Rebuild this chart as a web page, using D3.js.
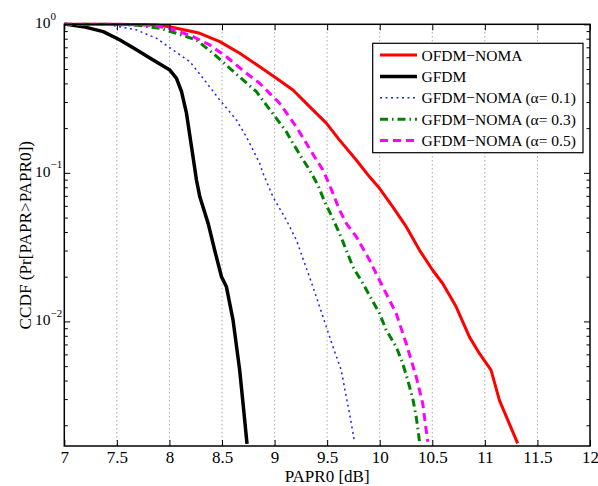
<!DOCTYPE html>
<html>
<head>
<meta charset="utf-8">
<script src="https://cdn.jsdelivr.net/npm/d3@7"></script>
<style>
  html, body { margin: 0; padding: 0; background: #fff; }
  svg { display: block; font-family: "Liberation Serif", "Times New Roman", serif; }
</style>
</head>
<body>
<svg id="chart" width="598" height="486"></svg>
<script>
// PAPR threshold (dB) and CCDF values for each scheme
const ofdmNomaX = [7.0, 7.5, 7.88, 8.0, 8.225, 8.289, 8.479, 8.669, 8.859, 9.017, 9.175, 9.333, 9.492, 9.618, 9.777, 9.903, 9.998, 10.124, 10.252, 10.378, 10.504, 10.599, 10.727, 10.853, 10.948, 11.059, 11.138, 11.312];
const ofdmNomaY = [1.0, 0.999, 0.99, 0.964, 0.892, 0.870, 0.764, 0.638, 0.518, 0.433, 0.361, 0.279, 0.216, 0.166, 0.122, 0.094, 0.0787, 0.0591, 0.0434, 0.0302, 0.0221, 0.0180, 0.01254, 0.00787, 0.00609, 0.0047, 0.00295, 0.00151];

const gfdmX = [7.0, 7.02, 7.18, 7.37, 7.53, 7.69, 7.845, 8.004, 8.067, 8.115, 8.162, 8.21, 8.257, 8.289, 8.368, 8.431, 8.495, 8.542, 8.605, 8.668, 8.70, 8.738];
const gfdmY = [1.0, 0.999, 0.964, 0.892, 0.784, 0.671, 0.575, 0.492, 0.433, 0.352, 0.252, 0.150, 0.0895, 0.069, 0.0457, 0.030, 0.0200, 0.0171, 0.0102, 0.0047, 0.0028, 0.0015];

const alpha01X = [7.0, 7.213, 7.434, 7.688, 7.877, 8.035, 8.194, 8.32, 8.479, 8.637, 8.732, 8.858, 8.89, 8.985, 9.112, 9.207, 9.286, 9.365, 9.428, 9.492, 9.555, 9.634, 9.682, 9.713, 9.76];
const alpha01Y = [1.0, 0.999, 0.99, 0.916, 0.805, 0.671, 0.560, 0.433, 0.309, 0.227, 0.175, 0.116, 0.0993, 0.069, 0.0481, 0.0353, 0.0246, 0.0171, 0.01254, 0.0092, 0.00675, 0.0047, 0.0031, 0.0024, 0.00155];

const alpha03X = [7.0, 7.434, 7.7, 7.909, 8.067, 8.257, 8.415, 8.574, 8.70, 8.827, 8.922, 9.017, 9.112, 9.175, 9.254, 9.333, 9.412, 9.476, 9.549, 9.618, 9.682, 9.745, 9.84, 9.998, 10.062, 10.157, 10.219, 10.267, 10.314, 10.347, 10.371, 10.378];
const alpha03Y = [1.0, 0.999, 0.985, 0.940, 0.870, 0.784, 0.638, 0.506, 0.422, 0.352, 0.286, 0.233, 0.189, 0.158, 0.128, 0.1044, 0.0828, 0.0639, 0.0501, 0.0391, 0.0302, 0.0233, 0.0180, 0.0113, 0.00873, 0.00675, 0.0052, 0.00402, 0.00303, 0.00228, 0.00171, 0.00155];

const alpha05X = [7.0, 7.5, 7.8, 8.004, 8.225, 8.383, 8.542, 8.732, 8.858, 8.953, 9.048, 9.127, 9.207, 9.302, 9.381, 9.46, 9.523, 9.618, 9.682, 9.777, 9.903, 10.029, 10.157, 10.252, 10.347, 10.409, 10.442, 10.457];
const alpha05Y = [1.0, 0.999, 0.99, 0.94, 0.826, 0.726, 0.605, 0.468, 0.401, 0.343, 0.294, 0.245, 0.204, 0.158, 0.128, 0.1044, 0.0828, 0.0562, 0.0457, 0.0372, 0.0259, 0.0171, 0.0113, 0.0071, 0.00424, 0.0028, 0.00185, 0.00155];

const seriesNames = ["OFDM\u2212NOMA", "GFDM", "GFDM\u2212NOMA (\u03b1= 0.1)", "GFDM\u2212NOMA (\u03b1= 0.3)", "GFDM\u2212NOMA (\u03b1= 0.5)"];
const xTickValues = [7, 7.5, 8, 8.5, 9, 9.5, 10, 10.5, 11, 11.5, 12];
const yDecades = [0, -1, -2];

const series = [
  { name: seriesNames[0], x: ofdmNomaX, y: ofdmNomaY, color: "#ff0000", width: 3, dash: null },
  { name: seriesNames[1], x: gfdmX, y: gfdmY, color: "#000000", width: 3.5, dash: null },
  { name: seriesNames[2], x: alpha01X, y: alpha01Y, color: "#1f1fff", width: 1.5, dash: "2,3.5" },
  { name: seriesNames[3], x: alpha03X, y: alpha03Y, color: "#008000", width: 3, dash: "8,4,1.5,4" },
  { name: seriesNames[4], x: alpha05X, y: alpha05Y, color: "#ff00ff", width: 3, dash: "8,5" }
];

const svg = d3.select("#chart");
const plotL = 64.3, plotR = 590, plotT = 24.3, plotB = 446;

const x = d3.scaleLinear().domain([7, 12]).range([plotL, plotR]);
const y = d3.scaleLog().domain([0.00145, 1]).range([plotB, plotT]);

// vertical dotted grid
svg.append("g").selectAll("line")
  .data(xTickValues.slice(1, -1))
  .join("line")
  .attr("x1", d => x(d)).attr("x2", d => x(d))
  .attr("y1", plotT).attr("y2", plotB)
  .attr("stroke", "#808080").attr("stroke-width", 1)
  .attr("stroke-dasharray", "1,3");

// curves
const line = d3.line().x(d => x(d[0])).y(d => y(d[1]));
const plot = svg.append("g");
plot.append("clipPath").attr("id", "clip")
  .append("rect").attr("x", plotL).attr("y", plotT - 2).attr("width", plotR - plotL).attr("height", plotB - plotT + 2);
series.forEach(s => {
  plot.append("path")
    .datum(s.x.map((v, i) => [v, s.y[i]]))
    .attr("d", line)
    .attr("fill", "none")
    .attr("stroke", s.color)
    .attr("stroke-width", s.width)
    .attr("stroke-dasharray", s.dash)
    .attr("stroke-linejoin", "round")
    .attr("clip-path", "url(#clip)");
});

// axes with inward ticks
const minorTicks = [];
for (let e = -3; e <= -1; e++) {
  for (let m = 2; m <= 9; m++) {
    const v = m * Math.pow(10, e);
    if (v >= 0.00145 && v < 1) minorTicks.push(v);
  }
}
const majorY = yDecades.map(e => Math.pow(10, e));

const xAxisBottom = d3.axisBottom(x).tickValues(xTickValues).tickSize(-6).tickPadding(5).tickFormat(d3.format("~g"));
const xAxisTop = d3.axisTop(x).tickValues(xTickValues).tickSize(-6).tickFormat("");
svg.append("g").attr("transform", `translate(0,${plotB})`).call(xAxisBottom);
svg.append("g").attr("transform", `translate(0,${plotT})`).call(xAxisTop);

const yAxisLeft = d3.axisLeft(y).tickValues(majorY).tickSize(-6).tickFormat("");
const yAxisRight = d3.axisRight(y).tickValues(majorY).tickSize(-6).tickFormat("");
const yMinorLeft = d3.axisLeft(y).tickValues(minorTicks).tickSize(-3.5).tickFormat("");
const yMinorRight = d3.axisRight(y).tickValues(minorTicks).tickSize(-3.5).tickFormat("");
svg.append("g").attr("transform", `translate(${plotL},0)`).call(yAxisLeft);
svg.append("g").attr("transform", `translate(${plotR},0)`).call(yAxisRight);
svg.append("g").attr("transform", `translate(${plotL},0)`).call(yMinorLeft);
svg.append("g").attr("transform", `translate(${plotR},0)`).call(yMinorRight);

svg.selectAll(".domain").remove();
svg.selectAll(".tick line").attr("stroke", "#000").attr("stroke-width", 1);
svg.selectAll(".tick text").attr("font-family", "Liberation Serif, serif").attr("font-size", 17).attr("fill", "#000");

// y tick labels as 10 with superscript exponent
const yLab = svg.append("g").attr("font-size", 15.5);
yDecades.forEach(e => {
  const t = yLab.append("text")
    .attr("x", 35).attr("y", y(Math.pow(10, e)) + 4)
    .attr("text-anchor", "start").attr("fill", "#000");
  t.append("tspan").text("10");
  t.append("tspan").attr("dy", -8.5).attr("font-size", 11).text(e === 0 ? "0" : "\u2212" + (-e));
});

// plot box
svg.append("rect")
  .attr("x", plotL).attr("y", plotT).attr("width", plotR - plotL).attr("height", plotB - plotT)
  .attr("fill", "none").attr("stroke", "#000").attr("stroke-width", 1.5);

// axis titles
svg.append("text")
  .attr("x", (plotL + plotR) / 2).attr("y", 482)
  .attr("text-anchor", "middle").attr("font-size", 17)
  .text("PAPR0 [dB]");
svg.append("text")
  .attr("transform", `translate(31,${(plotT + plotB) / 2}) rotate(-90)`)
  .attr("text-anchor", "middle").attr("font-size", 17.2)
  .text("CCDF (Pr[PAPR>PAPR0])");

// legend
const lg = svg.append("g");
lg.append("rect")
  .attr("x", 372.7).attr("y", 43.3).attr("width", 210.3).attr("height", 109.4)
  .attr("fill", "#fff").attr("stroke", "#000").attr("stroke-width", 1.2);
series.forEach((s, i) => {
  const cy = 55 + i * 21.4;
  lg.append("line")
    .attr("x1", 380).attr("x2", 417).attr("y1", cy).attr("y2", cy)
    .attr("stroke", s.color).attr("stroke-width", s.width)
    .attr("stroke-dasharray", s.dash);
  lg.append("text")
    .attr("x", 421.5).attr("y", cy + 5.5)
    .attr("font-size", 15.5).attr("fill", "#000")
    .text(s.name);
});
</script>
</body>
</html>
